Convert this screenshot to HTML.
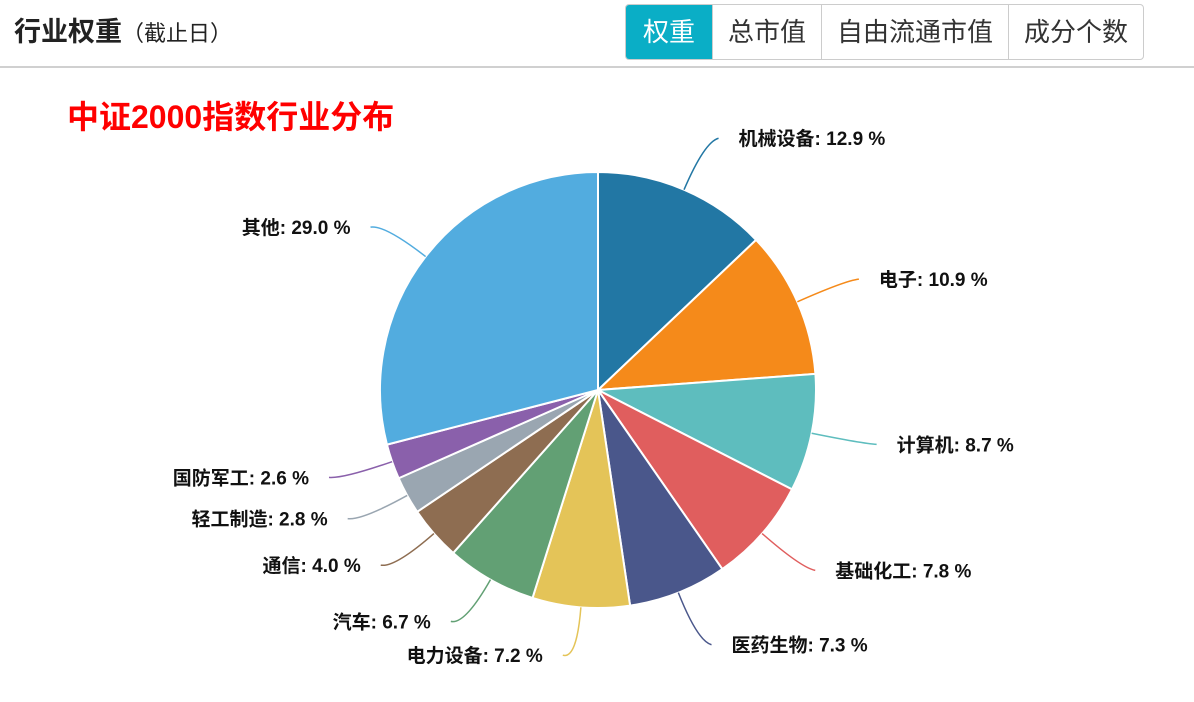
<!DOCTYPE html>
<html><head><meta charset="utf-8"><style>
body{margin:0;width:1194px;height:702px;background:#fff;font-family:"Liberation Sans","Noto Sans CJK SC",sans-serif;overflow:hidden;position:relative}
.h{position:absolute;left:14px;top:10px;font-size:27px;font-weight:bold;color:#222}
.h span{font-size:22px;font-weight:normal}
.tabs{position:absolute;left:625px;top:4px;height:54px;display:flex;border:1px solid #ccc;border-radius:4px;overflow:hidden}
.tab{font-size:26px;color:#333;padding:0 15px;line-height:54px;border-left:1px solid #ccc}
.tab.on{background:#0aaec6;color:#fff;border-left:none;padding:0 17px}
.sep{position:absolute;left:0;top:66px;width:1194px;height:2px;background:#d0d0d0}
.t{position:absolute;left:67px;top:92px;font-size:32px;color:#f00;font-weight:bold}
</style></head><body>
<div class="h">行业权重<span>（截止日）</span></div>
<div class="tabs">
<div class="tab on">权重</div>
<div class="tab">总市值</div>
<div class="tab">自由流通市值</div>
<div class="tab">成分个数</div>
</div>
<div class="sep"></div>
<div class="t">中证2000指数行业分布</div>
<svg id="c" width="1194" height="702" style="position:absolute;left:0;top:0"></svg>
<script>
const categories=["机械设备","电子","计算机","基础化工","医药生物","电力设备","汽车","通信","轻工制造","国防军工","其他"];
const values=[12.9,10.9,8.7,7.8,7.3,7.2,6.7,4.0,2.8,2.6,29.0];
const colors=["#2277a4","#f58a1a","#5ebdbe","#e05e5e","#4a578b","#e4c458","#62a074","#8e6d51","#9aa6b1","#8a60ab","#52acdf"];
const svg=document.getElementById('c');const NS="http://www.w3.org/2000/svg";
const cx=598,cy=390,R=218;
const total=values.reduce((a,b)=>a+b,0);
function pt(a,r){return [cx+r*Math.sin(a),cy-r*Math.cos(a)];}
let acc=0;
values.forEach((v,i)=>{
 const a0=acc/total*2*Math.PI;acc+=v;const a1=acc/total*2*Math.PI;
 const p0=pt(a0,R),p1=pt(a1,R);const large=(a1-a0)>Math.PI?1:0;
 const p=document.createElementNS(NS,'path');
 p.setAttribute('d',`M${cx},${cy}L${p0[0]},${p0[1]}A${R},${R} 0 ${large} 1 ${p1[0]},${p1[1]}Z`);
 p.setAttribute('fill',colors[i]);p.setAttribute('stroke','#fff');p.setAttribute('stroke-width','2');
 
 
 svg.appendChild(p);
 const m=(a0+a1)/2;const side=Math.sin(m)>=0?1:-1;
 const q0=pt(m,R),q1=pt(m,R+52);const q2=[q1[0]+side*14,q1[1]-4*side*Math.cos(m)];
 const l=document.createElementNS(NS,'path');
 l.setAttribute('d',`M${q0[0]},${q0[1]}Q${q1[0]},${q1[1]} ${q2[0]},${q2[1]}`);
 l.setAttribute('fill','none');l.setAttribute('stroke',colors[i]);l.setAttribute('stroke-width','1.5');
 
 
 svg.appendChild(l);
 const t=document.createElementNS(NS,'text');
 t.setAttribute('x',q2[0]+side*20);t.setAttribute('y',q2[1]+7);
 t.setAttribute('text-anchor',side>0?'start':'end');
 t.setAttribute('font-size','19');t.setAttribute('font-weight','bold');t.setAttribute('fill','#111');
 t.setAttribute('font-family','"Liberation Sans","Noto Sans CJK SC",sans-serif');
 t.textContent=categories[i]+': '+v.toFixed(1)+' %';
 
 
 svg.appendChild(t);
});
</script>
</body></html>
